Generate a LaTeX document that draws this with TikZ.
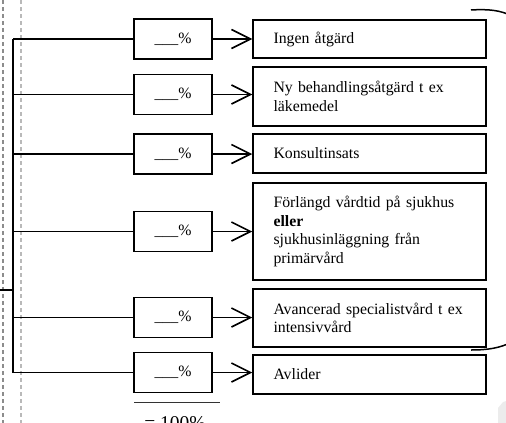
\documentclass[tikz,border=0pt]{standalone}
\usepackage{fontspec}
\setmainfont{Liberation Serif}
\usetikzlibrary{arrows.meta}
\begin{document}
\begin{tikzpicture}[x=1pt,y=-1pt,
  pbox/.style={draw=black,line width=1.5pt,minimum width=78pt,minimum height=40pt,inner sep=0pt,
    font=\fontsize{15.8}{18.5}\selectfont},
  tbox/.style={draw=black,line width=1.5pt,minimum width=233pt,inner xsep=20pt,inner ysep=0pt,
    text width=192pt,align=left,font=\fontsize{15.8}{18.5}\selectfont},
  branch/.style={line width=1.6pt},
  trunk/.style={line width=2.2pt},
  arr/.style={line width=1.6pt,-{Straight Barb[length=19pt,width=19pt,line width=1.6pt]}},
  guide/.style={line width=1.2pt,dash pattern=on 4pt off 3pt}]
\useasboundingbox (0,0) rectangle (506,423);
% dashed guide lines
\draw[guide,gray!90] (3,0) -- (3,423);
\draw[guide,gray!55] (21,0) -- (21,423);
% percent boxes
\node[pbox] (p1) at (173,39) {\_\_\_\%};
\node[pbox] (p2) at (173,94.5) {\_\_\_\%};
\node[pbox] (p3) at (173,154) {\_\_\_\%};
\node[pbox] (p4) at (173,231.5) {\_\_\_\%};
\node[pbox] (p5) at (173,317.5) {\_\_\_\%};
\node[pbox] (p6) at (173,372.5) {\_\_\_\%};
% text boxes
\node[tbox,minimum height=38pt] (t1) at (369.5,39) {Ingen åtgärd};
\node[tbox,minimum height=59pt] (t2) at (369.5,96.5) {Ny behandlingsåtgärd t ex\\läkemedel};
\node[tbox,minimum height=39pt] (t3) at (369.5,153.5) {Konsultinsats};
\node[tbox,minimum height=97pt] (t4) at (369.5,231.5) {Förlängd vårdtid på sjukhus\\\textbf{eller}\\sjukhusinläggning från\\primärvård};
\node[tbox,minimum height=58pt] (t5) at (369.5,318) {Avancerad specialistvård t ex\\intensivvård};
\node[tbox,minimum height=39pt] (t6) at (369.5,374.5) {Avlider};
% trunk
\coordinate (top) at (13,39);
\coordinate (bot) at (13,372.5);
\coordinate (stub) at (0,290);
\draw[trunk] (top) -- (bot);
\draw[trunk] (stub) -- (stub -| top);
\foreach \i in {1,...,6}{
  \draw[branch] (p\i.west -| top) -- (p\i.west);
  \draw[arr] (p\i.east) -- (p\i.east -| t\i.west);
}
% sum line
\coordinate (s1) at (134,402);
\coordinate (s2) at (220,402);
\draw[line width=1pt,black!80] (s1) -- (s2);
\node[anchor=base,inner sep=0pt,font=\fontsize{19.5}{22}\selectfont] (sum) at (175,429) {= 100\%};
% brace ends
\draw[line width=1.5pt] (471,10) .. controls (488,9) and (500,10) .. (512,16);
\draw[line width=1.5pt] (471,350) .. controls (488,350) and (500,348) .. (512,342);
% faint mark
\fill[gray!15] (498,423) -- (498,408) -- (503,402) -- (506,401) -- (506,423) -- cycle;
\end{tikzpicture}
\end{document}
